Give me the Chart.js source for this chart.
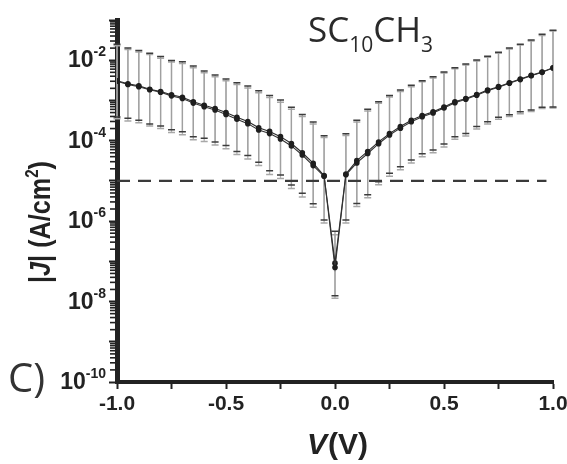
<!DOCTYPE html>
<html>
<head>
<meta charset="utf-8">
<script src="https://cdn.jsdelivr.net/npm/chart.js@4/dist/chart.umd.min.js"></script>
<style>
html, body { margin: 0; padding: 0; background: #fff; }
</style>
</head>
<body>
<canvas id="ivChart" width="567" height="464"></canvas>
<script>
// bias voltage (V)
const voltages = [-1.00, -0.95, -0.90, -0.85, -0.80, -0.75, -0.70, -0.65, -0.60, -0.55,
	-0.50, -0.45, -0.40, -0.35, -0.30, -0.25, -0.20, -0.15, -0.10, -0.05,
	0.00, 0.05, 0.10, 0.15, 0.20, 0.25, 0.30, 0.35, 0.40, 0.45,
	0.50, 0.55, 0.60, 0.65, 0.70, 0.75, 0.80, 0.85, 0.90, 0.95, 1.00];

// |J| (A/cm2), two sweeps
const jForward = [3.1e-3, 2.6e-3, 2.3e-3, 1.9e-3, 1.66e-3, 1.38e-3, 1.2e-3, 9.3e-4, 7.6e-4, 6.3e-4,
	5.0e-4, 3.8e-4, 3.0e-4, 2.1e-4, 1.7e-4, 1.26e-4, 8.5e-5, 5.0e-5, 2.75e-5, 1.35e-5,
	9.0e-8, 1.48e-5, 3.2e-5, 5.4e-5, 9.3e-5, 1.5e-4, 2.24e-4, 3.2e-4, 4.2e-4, 5.2e-4,
	6.9e-4, 9.3e-4, 1.12e-3, 1.41e-3, 1.82e-3, 2.2e-3, 2.75e-3, 3.4e-3, 4.2e-3, 5.1e-3, 6.5e-3];
const jReverse = [3.0e-3, 2.5e-3, 2.2e-3, 1.85e-3, 1.6e-3, 1.3e-3, 1.12e-3, 8.6e-4, 7.0e-4, 5.8e-4,
	4.5e-4, 3.4e-4, 2.65e-4, 1.85e-4, 1.5e-4, 1.1e-4, 7.4e-5, 4.4e-5, 2.4e-5, 1.3e-5,
	7.0e-8, 1.42e-5, 2.8e-5, 4.8e-5, 8.4e-5, 1.38e-4, 2.05e-4, 2.95e-4, 3.95e-4, 4.9e-4,
	6.5e-4, 8.8e-4, 1.07e-3, 1.35e-3, 1.75e-3, 2.12e-3, 2.68e-3, 3.3e-3, 4.1e-3, 5.0e-3, 6.4e-3];

// error bar ends
const errHighForward = [2.5e-2, 2.0e-2, 1.74e-2, 1.48e-2, 1.23e-2, 9.8e-3, 9.1e-3, 7.2e-3, 5.4e-3, 4.3e-3,
	3.4e-3, 2.75e-3, 2.3e-3, 1.74e-3, 1.32e-3, 1.02e-3, 6.8e-4, 4.5e-4, 2.9e-4, 1.32e-4,
	5.6e-7, 1.48e-4, 3.2e-4, 6.0e-4, 9.3e-4, 1.32e-3, 1.82e-3, 2.4e-3, 3.1e-3, 3.9e-3,
	5.1e-3, 6.5e-3, 8.1e-3, 1.02e-2, 1.26e-2, 1.58e-2, 2.0e-2, 2.5e-2, 3.2e-2, 4.4e-2, 5.6e-2];
const errLowForward = [3.9e-4, 3.6e-4, 3.2e-4, 2.6e-4, 2.3e-4, 1.86e-4, 1.66e-4, 1.26e-4, 1.15e-4, 9.3e-5,
	7.6e-5, 5.4e-5, 4.3e-5, 2.9e-5, 1.78e-5, 1.41e-5, 7.9e-6, 4.9e-6, 2.7e-6, 1.07e-6,
	1.4e-8, 1.07e-6, 2.75e-6, 4.5e-6, 9.5e-6, 1.55e-5, 2.24e-5, 3.3e-5, 4.7e-5, 5.9e-5,
	8.3e-5, 1.26e-4, 1.5e-4, 2.24e-4, 2.95e-4, 3.8e-4, 4.4e-4, 5.2e-4, 5.8e-4, 6.8e-4, 6.9e-4];
const errHighReverse = [2.3e-2, 1.85e-2, 1.6e-2, 1.38e-2, 1.12e-2, 9.0e-3, 8.3e-3, 6.5e-3, 4.9e-3, 3.9e-3,
	3.1e-3, 2.5e-3, 2.05e-3, 1.55e-3, 1.18e-3, 9.0e-4, 6.0e-4, 4.0e-4, 2.6e-4, 1.2e-4,
	4.6e-7, 1.35e-4, 2.9e-4, 5.5e-4, 8.5e-4, 1.22e-3, 1.68e-3, 2.2e-3, 2.9e-3, 3.6e-3,
	4.8e-3, 6.1e-3, 7.6e-3, 9.6e-3, 1.19e-2, 1.5e-2, 1.9e-2, 2.4e-2, 3.0e-2, 4.1e-2, 5.3e-2];
const errLowReverse = [3.5e-4, 3.1e-4, 2.8e-4, 2.3e-4, 2.0e-4, 1.6e-4, 1.4e-4, 1.05e-4, 9.6e-5, 7.8e-5,
	6.3e-5, 4.5e-5, 3.5e-5, 2.4e-5, 1.45e-5, 1.15e-5, 6.5e-6, 4.0e-6, 2.2e-6, 9.0e-7,
	1.2e-8, 9.0e-7, 2.3e-6, 3.8e-6, 8.0e-6, 1.3e-5, 1.9e-5, 2.8e-5, 4.0e-5, 5.0e-5,
	7.0e-5, 1.08e-4, 1.3e-4, 1.95e-4, 2.6e-4, 3.4e-4, 4.0e-4, 4.7e-4, 5.3e-4, 6.3e-4, 6.5e-4];

// dashed reference level
const dashV = [-1.0, 0.97];
const dashJ = [1e-5, 1e-5];

// axes
const yTickValues = [1e-10, 1e-9, 1e-8, 1e-7, 1e-6, 1e-5, 1e-4, 1e-3, 1e-2, 1e-1];
const yLabelValues = [1e-2, 1e-4, 1e-6, 1e-8, 1e-10];
const yLabelExps = ['-2', '-4', '-6', '-8', '-10'];
const yMinorSteps = [2, 3, 4, 5, 6, 7, 8, 9];
const xTickValues = [-1.0, -0.75, -0.5, -0.25, 0.0, 0.25, 0.5, 0.75, 1.0];
const xTickLabels = ['-1.0', '', '-0.5', '', '0.0', '', '0.5', '', '1.0'];

const BOLD = "'Liberation Sans', Arial, sans-serif";
const INK = '#222';

function pts(ys, xs) {
	return xs.map((v, i) => ({x: v, y: ys[i]}));
}

// error bars + minor ticks + labels that need super/subscripts
const decorations = {
	id: 'decorations',
	beforeDatasetsDraw(chart) {
		const ctx = chart.ctx, xs = chart.scales.x, ys = chart.scales.y;
		function bars(low, high, lineCol, capCol) {
			voltages.forEach((v, i) => {
				let px = xs.getPixelForValue(v);
				let top = ys.getPixelForValue(high[i]);
				let bot = ys.getPixelForValue(low[i]);
				ctx.strokeStyle = lineCol;
				ctx.lineWidth = 1.3;
				ctx.beginPath(); ctx.moveTo(px, top); ctx.lineTo(px, bot); ctx.stroke();
				ctx.strokeStyle = capCol;
				ctx.lineWidth = 1.5;
				ctx.beginPath();
				ctx.moveTo(px - 3.5, top); ctx.lineTo(px + 3.5, top);
				ctx.moveTo(px - 3.5, bot); ctx.lineTo(px + 3.5, bot);
				ctx.stroke();
			});
		}
		ctx.save();
		bars(errLowReverse, errHighReverse, '#b4b4b4', '#a8a8a8');
		bars(errLowForward, errHighForward, '#a0a0a0', '#3c3c3c');
		ctx.restore();
	},
	afterDraw(chart) {
		const ctx = chart.ctx, ys = chart.scales.y, area = chart.chartArea;
		ctx.save();
		// minor y ticks
		ctx.strokeStyle = INK;
		ctx.lineWidth = 1.6;
		yTickValues.slice(0, -1).forEach(base => {
			yMinorSteps.forEach(k => {
				let py = ys.getPixelForValue(k * base);
				ctx.beginPath(); ctx.moveTo(area.left - 2, py); ctx.lineTo(area.left - 7, py); ctx.stroke();
			});
		});

		// y tick labels 10^n
		ctx.fillStyle = INK;
		ctx.textBaseline = 'alphabetic';
		yLabelValues.forEach((val, i) => {
			let py = ys.getPixelForValue(val);
			ctx.font = 'bold 23px ' + BOLD;
			let w1 = ctx.measureText('10').width;
			ctx.font = 'bold 14px ' + BOLD;
			let w2 = ctx.measureText(yLabelExps[i]).width;
			let right = 106;
			ctx.font = 'bold 23px ' + BOLD;
			ctx.fillText('10', right - w2 - w1, py + 7);
			ctx.font = 'bold 14px ' + BOLD;
			ctx.fillText(yLabelExps[i], right - w2, py - 4);
		});

		// y axis title
		ctx.save();
		ctx.translate(50, 222);
		ctx.rotate(-Math.PI / 2);
		ctx.scale(0.84, 1);
		let parts = [
			['|', 'bold 30px ' + BOLD, 0],
			['J', 'italic bold 30px ' + BOLD, 0],
			['| (A/cm', 'bold 30px ' + BOLD, 0],
			['2', 'bold 18px ' + BOLD, -12],
			[')', 'bold 30px ' + BOLD, 0]
		];
		let total = 0;
		parts.forEach(p => { ctx.font = p[1]; total += ctx.measureText(p[0]).width; });
		let cx = -total / 2;
		parts.forEach(p => {
			ctx.font = p[1];
			ctx.fillText(p[0], cx, p[2]);
			cx += ctx.measureText(p[0]).width;
		});
		ctx.restore();

		// x axis title
		ctx.font = 'italic bold 30px ' + BOLD;
		let wv = ctx.measureText('V').width;
		ctx.font = 'bold 30px ' + BOLD;
		let wr = ctx.measureText('(V)').width;
		let sx = 337 - (wv + wr) / 2;
		ctx.font = 'italic bold 30px ' + BOLD;
		ctx.fillText('V', sx, 454);
		ctx.font = 'bold 30px ' + BOLD;
		ctx.fillText('(V)', sx + wv + 1, 454);

		// molecule label
		ctx.fillStyle = '#2a2a2a';
		let tx = 308;
		let title = [['SC', 35, 0], ['10', 21, 10], ['CH', 35, 0], ['3', 21, 10]];
		title.forEach(t => {
			ctx.font = t[1] + "px 'Open Sans', sans-serif";
			ctx.fillText(t[0], tx, 42 + t[2]);
			tx += ctx.measureText(t[0]).width;
		});

		// panel letter
		ctx.fillStyle = '#333';
		ctx.font = "40px 'Open Sans', sans-serif";
		ctx.fillText('C)', 8, 392);
		ctx.restore();
	}
};

let chart = new Chart(document.getElementById('ivChart'), {
	type: 'line',
	data: {
		datasets: [
			{
				data: pts(dashJ, dashV),
				borderColor: '#3a3a3a',
				borderWidth: 2.2,
				borderDash: [13, 8],
				pointRadius: 0
			},
			{
				data: pts(jReverse, voltages),
				borderColor: '#333',
				borderWidth: 1.1,
				pointRadius: 2.8,
				pointBackgroundColor: '#1e1e1e',
				pointBorderWidth: 0
			},
			{
				data: pts(jForward, voltages),
				borderColor: '#2a2a2a',
				borderWidth: 1.1,
				pointRadius: 2.8,
				pointBackgroundColor: '#1e1e1e',
				pointBorderWidth: 0
			}
		]
	},
	options: {
		responsive: false,
		animation: false,
		events: [],
		layout: { padding: { left: 0, right: 14, top: 20, bottom: 0 } },
		plugins: { legend: { display: false }, tooltip: { enabled: false } },
		scales: {
			x: {
				type: 'linear',
				min: -1, max: 1,
				afterBuildTicks: s => { s.ticks = xTickValues.map(v => ({value: v})); },
				afterFit: s => { s.height = 82; s.paddingLeft = 0; s.paddingRight = 0; },
				border: { color: INK, width: 4 },
				grid: { drawOnChartArea: false, tickLength: 7, tickWidth: 2, tickColor: INK },
				ticks: {
					autoSkip: false,
					maxRotation: 0,
					padding: 3,
					color: INK,
					font: { family: BOLD, weight: 'bold', size: 21 },
					callback: (v, i) => xTickLabels[i]
				}
			},
			y: {
				type: 'logarithmic',
				min: 1e-10, max: 1e-1,
				afterBuildTicks: s => { s.ticks = yTickValues.map(v => ({value: v})); },
				afterFit: s => { s.width = 117; s.paddingTop = 0; s.paddingBottom = 0; },
				border: { color: INK, width: 5 },
				grid: { drawOnChartArea: false, tickLength: 8, tickWidth: 2, tickColor: INK },
				ticks: { display: false }
			}
		}
	},
	plugins: [decorations]
});
</script>
</body>
</html>
